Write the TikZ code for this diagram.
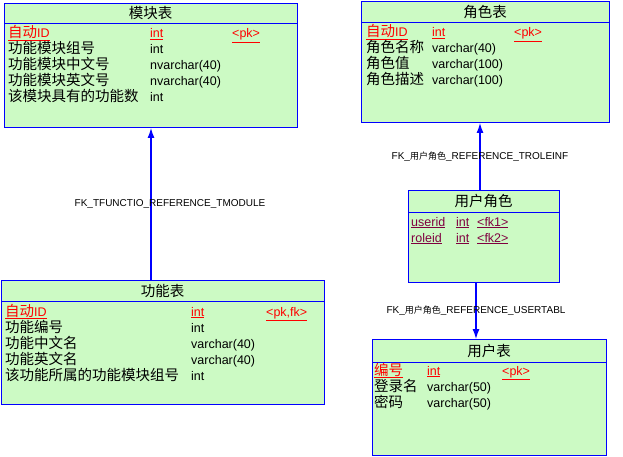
\documentclass[tikz,border=0pt]{standalone}
\usepackage{fontspec}
\setmainfont{Liberation Sans}
\newfontfamily\cjk{Noto Sans CJK SC}[Scale=1.16]
\newfontfamily\cjklabel{Noto Sans CJK SC}[Scale=0.9]
\usepackage{tikz}
\usetikzlibrary{arrows.meta, positioning}
\definecolor{tblblue}{RGB}{0,0,255}
\definecolor{tblgreen}{RGB}{204,250,196}
\definecolor{pkred}{RGB}{255,0,0}
\definecolor{fkmaroon}{RGB}{128,0,64}
\tikzstyle{arrow} = [tblblue, line width=1.2pt, -{Latex[length=10pt,width=7pt]}]
\tikzstyle{table} = [rectangle, draw=tblblue, line width=1pt, fill=tblgreen, anchor=north west, inner sep=0pt]
\tikzstyle{title} = [inner sep=0pt, font=\fontsize{12.5}{15}\selectfont\cjk]
\tikzstyle{field} = [anchor=base west, inner sep=0pt, font=\fontsize{12.5}{15}\selectfont]
\tikzstyle{fklabel} = [inner sep=0pt, text=black, font=\fontsize{10}{12}\selectfont]
\newcommand\pkcol[1]{{\color{pkred}\underline{#1}}}
\newcommand\fkcol[1]{{\color{fkmaroon}\underline{#1}}}
\newcommand\tblrow[5]{\makebox[#1][l]{#3}\makebox[#2][l]{#4}#5}

\begin{document}
\begin{tikzpicture}[x=1pt, y=-1pt]
\useasboundingbox (0,0) rectangle (623,457);
%----------------------------------------------------------------------------
% Table boxes
\node (moduleTable) [table, minimum width=293pt, minimum height=124pt] at (4,3) {};
\node (roleTable) [table, minimum width=248pt, minimum height=121pt] at (361,1) {};
\node (funcTable) [table, minimum width=323pt, minimum height=124pt] at (1,280) {};
\node (userRole) [table, minimum width=151pt, minimum height=92pt] at (408,190) {};
\node (userTable) [table, minimum width=234pt, minimum height=116pt] at (372,339) {};

% header lines
\draw [tblblue, line width=1pt] ([yshift=-21pt]moduleTable.north west) -- ([yshift=-21pt]moduleTable.north east);
\draw [tblblue, line width=1pt] ([yshift=-22pt]roleTable.north west) -- ([yshift=-22pt]roleTable.north east);
\draw [tblblue, line width=1pt] ([yshift=-21pt]funcTable.north west) -- ([yshift=-21pt]funcTable.north east);
\draw [tblblue, line width=1pt] ([yshift=-22pt]userRole.north west) -- ([yshift=-22pt]userRole.north east);
\draw [tblblue, line width=1pt] ([yshift=-23pt]userTable.north west) -- ([yshift=-23pt]userTable.north east);

%----------------------------------------------------------------------------
% 模块表
\node (moduleTitle) [title] at (150.5,13.5) {模块表};
\node (modRow1) [field] at (8,38) {\tblrow{142pt}{82pt}{\pkcol{{\cjk 自动}ID}}{\pkcol{int}}{\pkcol{<pk>}}};
\node (modRow2) [field] at (8,54) {\tblrow{142pt}{82pt}{\cjk 功能模块组号}{int}{}};
\node (modRow3) [field] at (8,70) {\tblrow{142pt}{82pt}{\cjk 功能模块中文号}{nvarchar(40)}{}};
\node (modRow4) [field] at (8,86) {\tblrow{142pt}{82pt}{\cjk 功能模块英文号}{nvarchar(40)}{}};
\node (modRow5) [field] at (8,102) {\tblrow{142pt}{82pt}{\cjk 该模块具有的功能数}{int}{}};

% 角色表
\node (roleTitle) [title] at (485,12) {角色表};
\node (roleRow1) [field] at (366,37) {\tblrow{66pt}{82pt}{\pkcol{{\cjk 自动}ID}}{\pkcol{int}}{\pkcol{<pk>}}};
\node (roleRow2) [field] at (366,53) {\tblrow{66pt}{82pt}{\cjk 角色名称}{varchar(40)}{}};
\node (roleRow3) [field] at (366,69) {\tblrow{66pt}{82pt}{\cjk 角色值}{varchar(100)}{}};
\node (roleRow4) [field] at (366,85) {\tblrow{66pt}{82pt}{\cjk 角色描述}{varchar(100)}{}};

% 功能表
\node (funcTitle) [title] at (162.5,290.5) {功能表};
\node (funcRow1) [field] at (5,316) {\tblrow{186pt}{75pt}{\pkcol{{\cjk 自动}ID}}{\pkcol{int}}{\pkcol{<pk,fk>}}};
\node (funcRow2) [field] at (5,332) {\tblrow{186pt}{75pt}{\cjk 功能编号}{int}{}};
\node (funcRow3) [field] at (5,348) {\tblrow{186pt}{75pt}{\cjk 功能中文名}{varchar(40)}{}};
\node (funcRow4) [field] at (5,364) {\tblrow{186pt}{75pt}{\cjk 功能英文名}{varchar(40)}{}};
\node (funcRow5) [field] at (5,380) {\tblrow{186pt}{75pt}{\cjk 该功能所属的功能模块组号}{int}{}};

% 用户角色
\node (userRoleTitle) [title] at (483.5,201) {用户角色};
\node (urRow1) [field] at (411,226) {\tblrow{45pt}{21pt}{\fkcol{userid}}{\fkcol{int}}{\fkcol{<fk1>}}};
\node (urRow2) [field] at (411,242) {\tblrow{45pt}{21pt}{\fkcol{roleid}}{\fkcol{int}}{\fkcol{<fk2>}}};

% 用户表
\node (userTitle) [title] at (489,350.5) {用户表};
\node (userRow1) [field] at (374,375) {\tblrow{53pt}{75pt}{\pkcol{\cjk 编号}}{\pkcol{int}}{\pkcol{<pk>}}};
\node (userRow2) [field] at (374,391) {\tblrow{53pt}{75pt}{\cjk 登录名}{varchar(50)}{}};
\node (userRow3) [field] at (374,407) {\tblrow{53pt}{75pt}{\cjk 密码}{varchar(50)}{}};

%----------------------------------------------------------------------------
% References
\draw [arrow] (moduleTable.south |- funcTable.north) -- (moduleTable.south)
  node (fkModule) [fklabel, midway, xshift=19pt] {FK\_TFUNCTIO\_REFERENCE\_TMODULE};
\draw [arrow] ([xshift=-4pt]userRole.north) -- ([xshift=-4pt]userRole.north |- roleTable.south)
  node (fkRole) [fklabel, midway] {FK\_{\cjklabel 用户角色}\_REFERENCE\_TROLEINF};
\draw [arrow] ([xshift=-8pt]userRole.south) -- ([xshift=-8pt]userRole.south |- userTable.north)
  node (fkUser) [fklabel, midway] {FK\_{\cjklabel 用户角色}\_REFERENCE\_USERTABL};
\end{tikzpicture}
\end{document}
